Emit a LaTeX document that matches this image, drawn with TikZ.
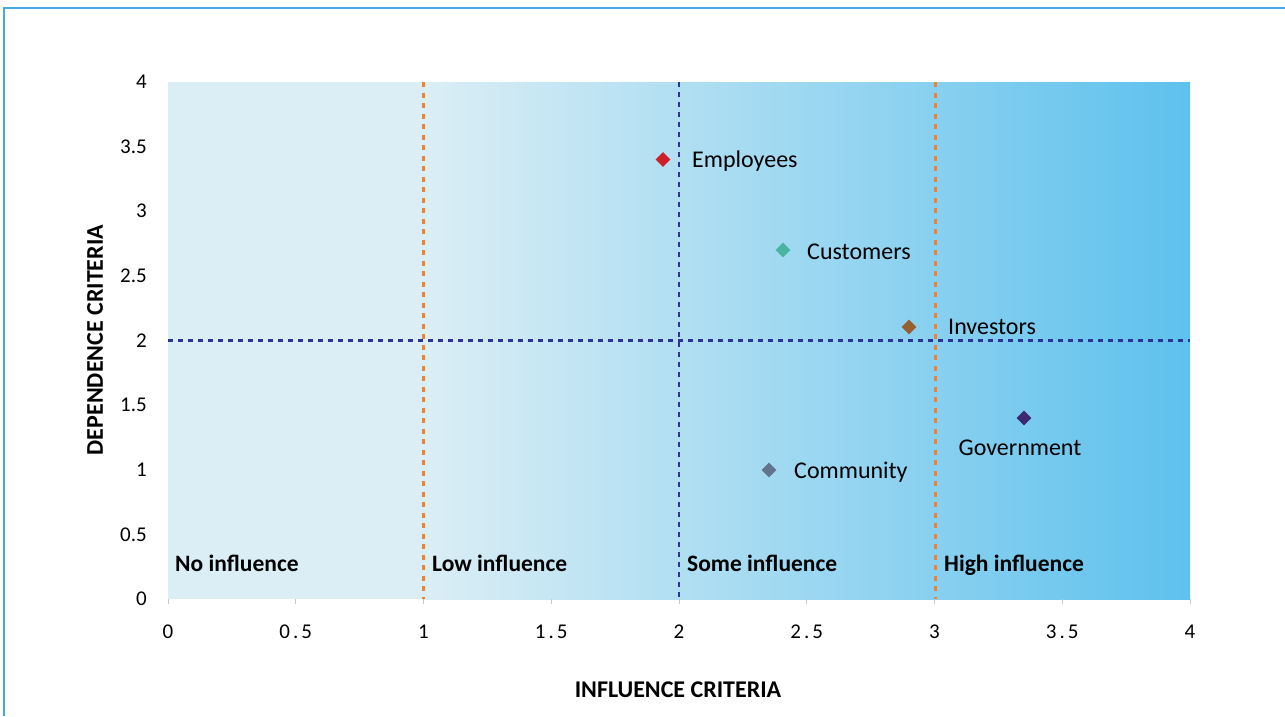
\documentclass[tikz,border=0pt]{standalone}
\usepackage{fontspec}
\setmainfont{Carlito}
\usetikzlibrary{shapes.geometric}
\definecolor{frame}{RGB}{70,170,225}
\definecolor{bgL}{RGB}{219,238,245}
\definecolor{bgR}{RGB}{94,193,237}
\definecolor{orangeD}{RGB}{240,128,50}
\definecolor{blueD}{RGB}{45,50,150}
\definecolor{cEmp}{RGB}{205,32,40}
\definecolor{cCus}{RGB}{75,180,160}
\definecolor{cInv}{RGB}{152,95,50}
\definecolor{cGov}{RGB}{60,40,115}
\definecolor{cCom}{RGB}{98,115,140}
\definecolor{tickc}{RGB}{200,200,200}
\tikzset{
  pt/.style={diamond, inner sep=0pt, minimum width=15pt, minimum height=15pt, draw=none},
  lbl/.style={font=\fontsize{24}{28}\selectfont, inner sep=0pt, anchor=base west, text=black},
  quad/.style={font=\fontsize{23.5}{28}\selectfont\bfseries, inner sep=0pt, anchor=base west, text=black},
  ytk/.style={font=\fontsize{21}{24}\selectfont, inner sep=0pt, anchor=east},
  xtk/.style={font=\fontsize{21}{24}\selectfont, inner sep=0pt, anchor=center},
  ttl/.style={font=\fontsize{24}{28}\selectfont\bfseries, inner sep=0pt},
  odash/.style={draw=orangeD, line width=3pt, dash pattern=on 5pt off 5.5pt},
  bdash/.style={draw=blueD, line width=2.8pt, dash pattern=on 5pt off 5pt}
}
\begin{document}
\begin{tikzpicture}[x=1pt,y=-1pt]
\useasboundingbox (0,0) rectangle (1285,716);
\fill[white] (0,0) rectangle (1285,716);
% frame
\draw[frame, line width=2pt] (3.5,716) -- (3.5,7.5) -- (1285,7.5);
% background
\fill[bgL] (168,82) rectangle (424,599);
\shade[left color=bgL, right color=bgR] (423,82) rectangle (1190,599);
% ticks
\foreach \i in {0,...,8} {
  \draw[tickc, line width=0.8pt] ({168+127.75*\i},599) -- ({168+127.75*\i},604);
}
% dashed lines
\draw[odash] (423,82) -- (423,599);
\draw[odash] (935,82) -- (935,599);
\draw[bdash] (679,82) -- (679,599);
\draw[bdash] (168,340.5) -- (1190,340.5);
% y tick labels
\foreach \v/\t in {0/0,0.5/0.5,1/1,1.5/1.5,2/2,2.5/2.5,3/3,3.5/3.5,4/4} {
  \node[ytk] at (147,{599-129.25*\v}) {\t};
}
% x tick labels
\foreach \v/\t in {0/0,0.5/{0\hspace{3pt}.\hspace{3pt}5},1/1,1.5/{1\hspace{3pt}.\hspace{3pt}5},2/2,2.5/{2\hspace{3pt}.\hspace{3pt}5},3/3,3.5/{3\hspace{3pt}.\hspace{3pt}5},4/4} {
  \node[xtk] at ({168+255.5*\v},632) {\t};
}
% axis titles
\node[ttl] (xt) at (678,690) {INFLUENCE CRITERIA};
\node[ttl, rotate=90] (yt) at (95,340) {DEPENDENCE CRITERIA};
% quadrant labels
\node[quad] (q1) at (175,571.5) {No influence};
\node[quad] (q2) at (432,571.5) {Low influence};
\node[quad] (q3) at (687,571.5) {Some influence};
\node[quad] (q4) at (944,571.5) {High influence};
% points
\node[pt, fill=cEmp] (emp) at (663,159.5) {};
\node[pt, fill=cCus] (cus) at (783,250) {};
\node[pt, fill=cInv] (inv) at (909,327) {};
\node[pt, fill=cGov] (gov) at (1024,418) {};
\node[pt, fill=cCom] (com) at (769,470) {};
% labels
\node[lbl] (empl) at (692,167.5) {Employees};
\node[lbl] (cusl) at (807,259) {Customers};
\node[lbl] (invl) at (948,334) {Investors};
\node[lbl, anchor=base] (govl) at (1020,455) {Government};
\node[lbl] (coml) at (794,478) {Community};
\end{tikzpicture}
\end{document}
